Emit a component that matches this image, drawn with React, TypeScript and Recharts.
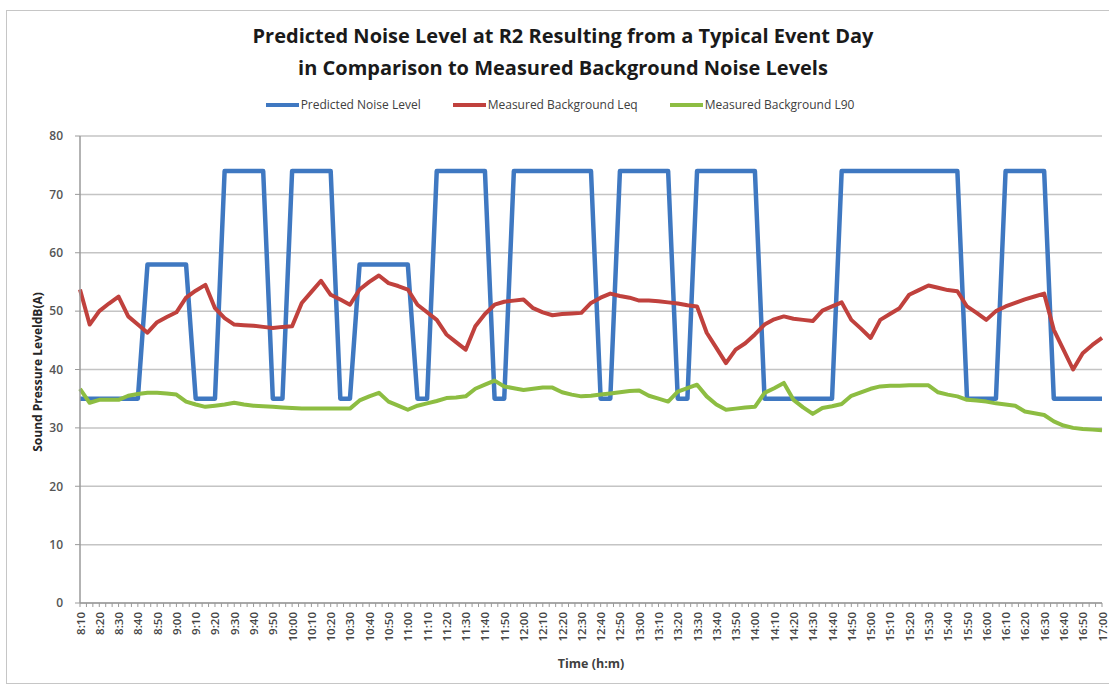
import { LineChart, Line, XAxis, YAxis, CartesianGrid } from 'recharts';

// readings every 5 minutes from 8:10 to 17:00
const START_MIN = 8 * 60 + 10;
const STEP_MIN = 5;

const predictedLevel = [
  35, 35, 35, 35, 35, 35, 35, 58, 58, 58, 58, 58, 35, 35, 35, 74, 74, 74, 74, 74,
  35, 35, 74, 74, 74, 74, 74, 35, 35, 58, 58, 58, 58, 58, 58, 35, 35, 74, 74, 74,
  74, 74, 74, 35, 35, 74, 74, 74, 74, 74, 74, 74, 74, 74, 35, 35, 74, 74, 74, 74,
  74, 74, 35, 35, 74, 74, 74, 74, 74, 74, 74, 35, 35, 35, 35, 35, 35, 35, 35, 74,
  74, 74, 74, 74, 74, 74, 74, 74, 74, 74, 74, 74, 35, 35, 35, 35, 74, 74, 74, 74,
  74, 35, 35, 35, 35, 35, 35,
];

const backgroundLeq = [
  53.7, 47.7, 50.0, 51.3, 52.5, 49.1, 47.7, 46.3, 48.1, 49.0, 49.8, 52.3, 53.5, 54.5, 50.5, 48.8, 47.7, 47.6, 47.5, 47.3,
  47.1, 47.3, 47.4, 51.4, 53.3, 55.2, 52.8, 52.0, 51.1, 53.7, 55.0, 56.1, 54.8, 54.3, 53.7, 51.1, 49.8, 48.5, 46.0, 44.7,
  43.4, 47.4, 49.5, 51.1, 51.6, 51.8, 52.0, 50.5, 49.8, 49.3, 49.5, 49.6, 49.7, 51.4, 52.3, 53.0, 52.6, 52.3, 51.8, 51.8,
  51.7, 51.5, 51.3, 51.0, 50.8, 46.3, 43.7, 41.1, 43.4, 44.5, 46.0, 47.7, 48.6, 49.1, 48.7, 48.5, 48.3, 50.1, 50.8, 51.5,
  48.5, 47.0, 45.4, 48.5, 49.5, 50.5, 52.8, 53.6, 54.4, 54.0, 53.6, 53.4, 50.8, 49.7, 48.5, 50.0, 50.8, 51.4, 52.0, 52.5,
  53.0, 46.8, 43.4, 40.0, 42.8, 44.2, 45.4,
];

const backgroundL90 = [
  36.7, 34.3, 34.8, 34.8, 34.8, 35.5, 35.8, 36.0, 36.0, 35.9, 35.7, 34.5, 34.0, 33.6, 33.8, 34.0, 34.3, 34.0, 33.8, 33.7,
  33.6, 33.5, 33.4, 33.3, 33.3, 33.3, 33.3, 33.3, 33.3, 34.7, 35.4, 36.0, 34.5, 33.8, 33.1, 33.8, 34.2, 34.6, 35.1, 35.2,
  35.4, 36.7, 37.4, 38.1, 37.1, 36.8, 36.5, 36.7, 36.9, 36.9, 36.1, 35.7, 35.4, 35.5, 35.7, 35.9, 36.1, 36.3, 36.4, 35.5,
  35.0, 34.5, 36.2, 36.8, 37.4, 35.4, 34.0, 33.1, 33.3, 33.5, 33.6, 36.0, 36.8, 37.7, 34.8, 33.5, 32.4, 33.4, 33.7, 34.1,
  35.5, 36.1, 36.7, 37.1, 37.2, 37.2, 37.3, 37.3, 37.3, 36.1, 35.7, 35.4, 34.8, 34.7, 34.5, 34.2, 34.0, 33.8, 32.8, 32.5,
  32.2, 31.1, 30.4, 30.0, 29.8, 29.7, 29.6,
];

const levelTicks = [0, 10, 20, 30, 40, 50, 60, 70, 80];

// minor ticks every 10/3 min, every third one labelled (10 min)
const timeTicks = Array.from({ length: 160 }, (_, k) => (k * 10) / 3);

const series = [
  { key: 'predicted', name: 'Predicted Noise Level', color: '#3f78c1', width: 4.5 },
  { key: 'leq', name: 'Measured Background Leq', color: '#c0413d', width: 4 },
  { key: 'l90', name: 'Measured Background L90', color: '#8dbd42', width: 4 },
];

const rows = predictedLevel.map((p, i) => ({
  t: i * STEP_MIN,
  predicted: p,
  leq: backgroundLeq[i],
  l90: backgroundL90[i],
}));

const clock = (m: number) => {
  const t = START_MIN + Math.round(m);
  return `${Math.floor(t / 60)}:${String(t % 60).padStart(2, '0')}`;
};

const FONT = '"Open Sans", "Noto Sans", sans-serif';

const TimeTick = (props: any) => {
  const { x, y, payload } = props;
  const k = Math.round((payload.value * 3) / 10);
  if (k % 3 !== 0) return null;
  return (
    <text
      transform={`translate(${x},${y + 3}) rotate(-90)`}
      textAnchor="end"
      dominantBaseline="central"
      fontFamily={FONT}
      fontSize={11.5}
      fontWeight={600}
      fill="#454545"
    >
      {clock(payload.value)}
    </text>
  );
};

export default function App() {
  return (
    <div
      style={{
        position: 'absolute', left: 0, top: 0, width: 1109, height: 686,
        overflow: 'hidden', background: '#fff', fontFamily: FONT,
      }}
    >
      <div
        style={{
          position: 'absolute', left: 6, top: 10, width: 1120, height: 672,
          border: '1px solid #c6c6c6',
        }}
      />
      <div
        style={{
          position: 'absolute', left: 17, top: 20, width: 1092, textAlign: 'center',
          fontSize: 20, fontWeight: 700, lineHeight: '32px', color: '#1a1a1a',
        }}
      >
        <div>Predicted Noise Level at R2 Resulting from a Typical Event Day</div>
        <div>in Comparison to Measured Background Noise Levels</div>
      </div>

      <div
        style={{
          position: 'absolute', left: 0, top: 96, width: 1120, display: 'flex',
          justifyContent: 'center', gap: 32, fontSize: 12, color: '#404040',
        }}
      >
        {series.map((s) => (
          <div key={s.key} style={{ display: 'flex', alignItems: 'center' }}>
            <span style={{ display: 'inline-block', width: 33, height: 4, background: s.color, marginRight: 2 }} />
            <span>{s.name}</span>
          </div>
        ))}
      </div>

      <div
        style={{
          position: 'absolute', left: 37, top: 372, transform: 'translate(-50%, -50%) rotate(-90deg)',
          whiteSpace: 'nowrap', fontSize: 12, fontWeight: 700, color: '#262626',
        }}
      >
        Sound Pressure LeveldB(A)
      </div>
      <div
        style={{
          position: 'absolute', left: 591, top: 663, transform: 'translate(-50%, -50%)',
          whiteSpace: 'nowrap', fontSize: 12.5, fontWeight: 700, color: '#404040',
        }}
      >
        Time (h:m)
      </div>

      <div style={{ position: 'absolute', left: 0, top: 0 }}>
        <LineChart width={1109} height={686} data={rows} margin={{ top: 136, right: 7, bottom: 0, left: 0 }}>
          <CartesianGrid vertical={false} stroke="#c4c4c4" strokeWidth={1.5} />
          <XAxis
            dataKey="t"
            type="number"
            domain={[0, 530]}
            ticks={timeTicks}
            interval={0}
            height={83}
            tickSize={4}
            tickMargin={2}
            tick={<TimeTick />}
            axisLine={{ stroke: '#9a9a9a', strokeWidth: 1.5 }}
            tickLine={{ stroke: '#9a9a9a' }}
          />
          <YAxis
            domain={[0, 80]}
            ticks={levelTicks}
            width={80}
            tickSize={5}
            tickMargin={12}
            tick={{ fontSize: 12, fontWeight: 600, fill: '#555', fontFamily: FONT }}
            axisLine={{ stroke: '#9a9a9a', strokeWidth: 1.5 }}
            tickLine={{ stroke: '#9a9a9a' }}
          />
          {series.map((s) => (
            <Line
              key={s.key}
              type="linear"
              dataKey={s.key}
              name={s.name}
              stroke={s.color}
              strokeWidth={s.width}
              strokeLinejoin="round"
              dot={false}
              activeDot={false}
              isAnimationActive={false}
            />
          ))}
        </LineChart>
      </div>
    </div>
  );
}
